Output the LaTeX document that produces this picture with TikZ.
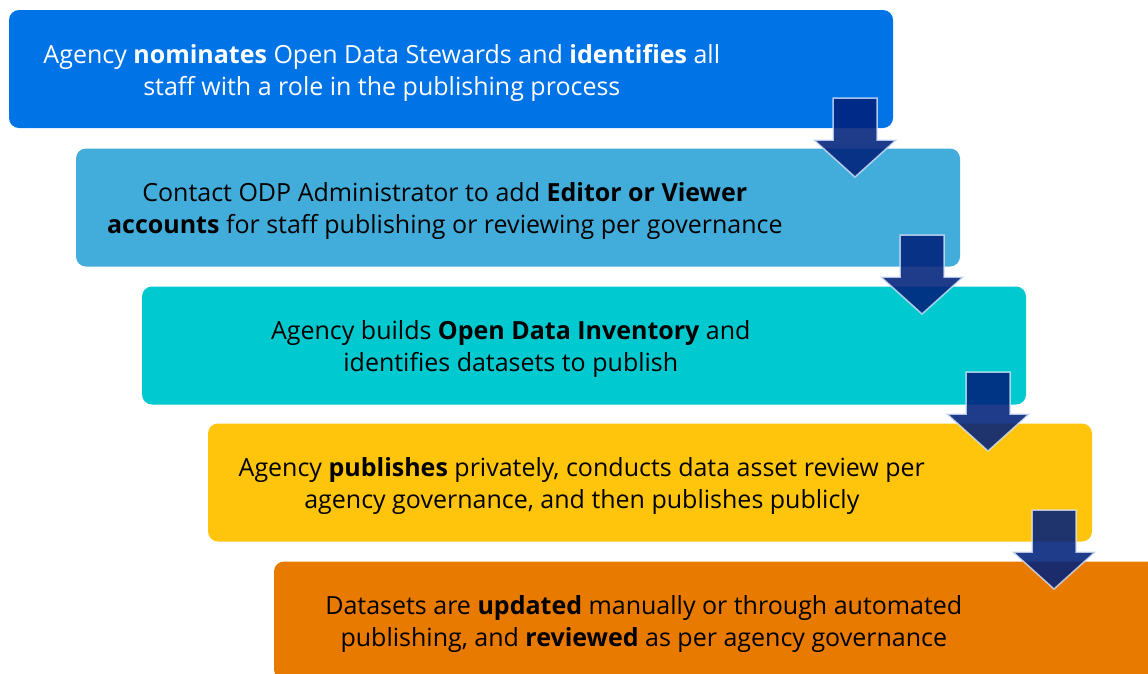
\documentclass[tikz,border=0pt]{standalone}
\usepackage{fontspec}
\setmainfont{Open Sans}
\definecolor{stepone}{HTML}{0073E6}
\definecolor{steptwo}{HTML}{42ADDA}
\definecolor{stepthree}{HTML}{00C9D0}
\definecolor{stepfour}{HTML}{FFC50C}
\definecolor{stepfive}{HTML}{E87A00}
\definecolor{arrowblue}{HTML}{00217B}
\definecolor{arrowrim}{HTML}{D8E4F8}
\begin{document}
\begin{tikzpicture}[x=1pt,y=-1pt,
  stepbox/.style={rounded corners=10pt, minimum width=884pt, minimum height=118pt, inner sep=0pt, draw=none},
  steptext/.style={font=\fontsize{25}{32}\selectfont, align=center, inner sep=0pt, yshift=-3pt},
  downarrow/.style={fill=arrowblue, fill opacity=0.88, draw=arrowrim, draw opacity=0.8, line width=1.5pt, line join=miter},
  pics/stepdown/.style={code={
    \draw[downarrow] (-22,0) -- (22,0) -- (22,42) -- (41,42) -- (0,79) -- (-41,42) -- (-22,42) -- cycle;}}]
\useasboundingbox (0,0) rectangle (1148,673);
\clip (0,0) rectangle (1148,673);

% the five process steps, each shifted right and down
\node[stepbox, fill=stepone]   (b1) at (451,69)    {};
\node[stepbox, fill=steptwo]   (b2) at (518,207.5) {};
\node[stepbox, fill=stepthree] (b3) at (584,345.5) {};
\node[stepbox, fill=stepfour]  (b4) at (650,482.5) {};
\node[stepbox, fill=stepfive]  (b5) at (716,620.5) {};

\node[steptext, text=white, yshift=-1pt] (t1) at ([xshift=373pt]b1.west)
  {Agency \textbf{nominates} Open Data Stewards and \textbf{identifies} all\\staff with a role in the publishing process};
\node[steptext] (t2) at ([xshift=369pt]b2.west)
  {Contact ODP Administrator to add \textbf{Editor or Viewer}\\\textbf{accounts} for staff publishing or reviewing per governance};
\node[steptext] (t3) at ([xshift=369pt]b3.west)
  {Agency builds \textbf{Open Data Inventory} and\\identifies datasets to publish};
\node[steptext] (t4) at ([xshift=374pt]b4.west)
  {Agency \textbf{publishes} privately, conducts data asset review per\\agency governance, and then publishes publicly};
\node[steptext] (t5) at ([xshift=370pt]b5.west)
  {Datasets are \textbf{updated} manually or through automated\\publishing, and \textbf{reviewed} as per agency governance};

% arrows linking consecutive steps
\coordinate (a1) at (855,98);
\coordinate (a2) at (922,235);
\coordinate (a3) at (988,372);
\coordinate (a4) at (1054,510);
\pic at (a1) {stepdown};
\pic at (a2) {stepdown};
\pic at (a3) {stepdown};
\pic at (a4) {stepdown};
\end{tikzpicture}
\end{document}
